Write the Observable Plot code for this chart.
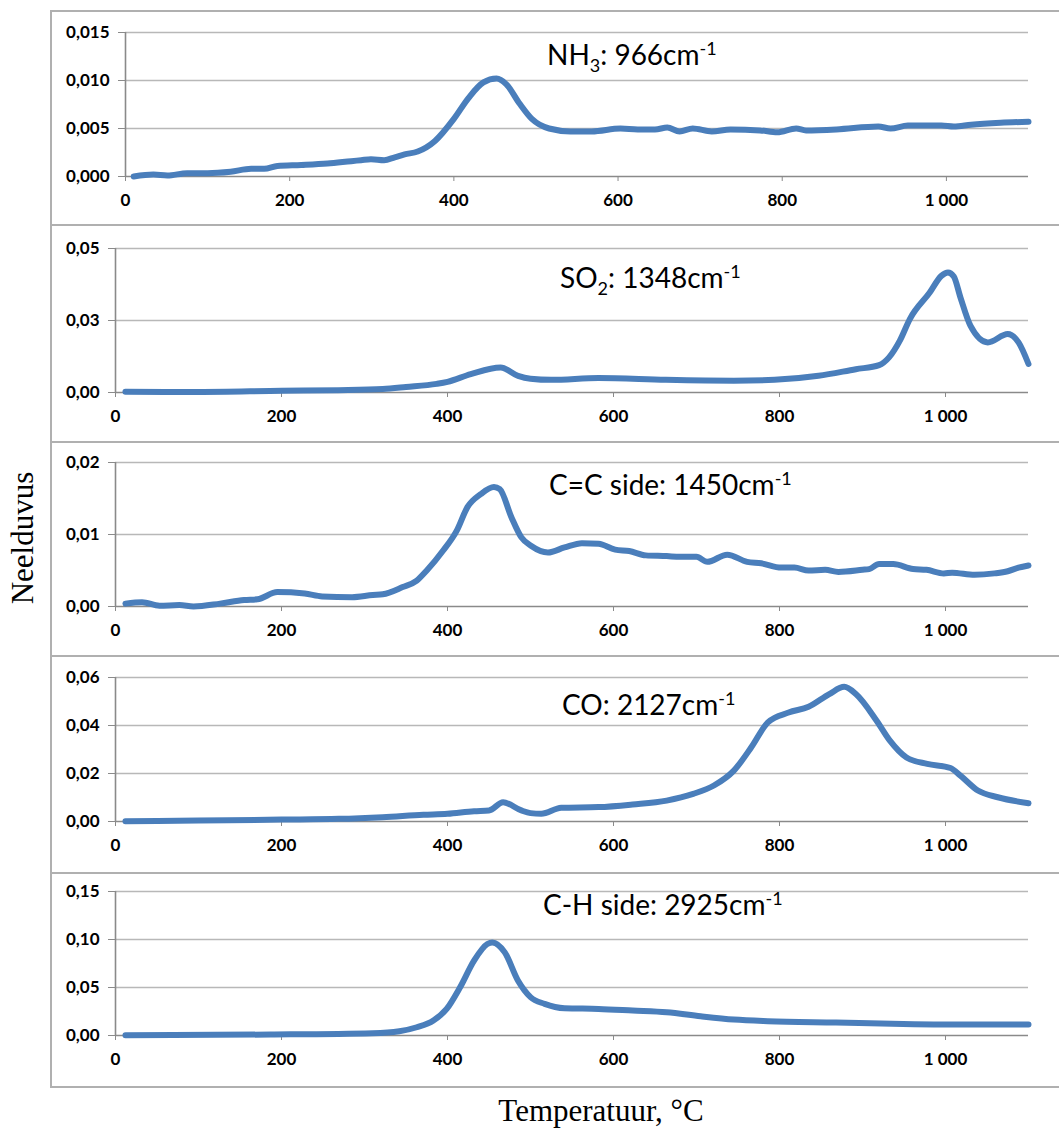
<!DOCTYPE html>
<html><head><meta charset="utf-8">
<script src="https://cdn.jsdelivr.net/npm/d3@7"></script>
<script src="https://cdn.jsdelivr.net/npm/@observablehq/plot@0.6"></script>
<style>
html,body{margin:0;padding:0;background:#fff;overflow:hidden;width:1059px;height:1128px}
#root{position:relative;width:1059px;height:1128px}
.box{position:absolute;left:50px;width:1030px;box-sizing:border-box;border:2px solid #b0b0b0}
#overlay{position:absolute;left:0;top:0;pointer-events:none}
</style></head>
<body><div id="root"></div>
<script>
// ---- data ----
const xTicks = [0, 200, 400, 600, 800, 1000];
const xTickLabels = ["0", "200", "400", "600", "800", "1 000"];

const nh3T = [10, 34, 51, 75, 100, 128, 153, 169, 185, 214, 246, 275, 287, 299, 315, 328, 340, 356, 377, 400, 418, 436, 452, 464, 480, 495, 516, 542, 568, 603, 624, 645, 660, 675, 691, 714, 737, 773, 794, 817, 829, 866, 917, 932, 953, 994, 1009, 1030, 1066, 1100];
const nh3V = [0.0000, 0.0002, 0.0001, 0.00035, 0.00035, 0.0005, 0.0008, 0.0008, 0.0011, 0.0012, 0.00135, 0.0016, 0.0017, 0.0018, 0.0017, 0.0020, 0.0023, 0.0026, 0.0037, 0.0060, 0.0082, 0.0098, 0.0102, 0.0096, 0.0076, 0.0060, 0.0050, 0.0047, 0.0047, 0.0050, 0.0049, 0.0049, 0.0051, 0.0047, 0.0050, 0.0047, 0.0049, 0.0048, 0.0046, 0.0050, 0.0048, 0.0049, 0.0052, 0.0050, 0.0053, 0.0053, 0.0052, 0.0054, 0.0056, 0.0057];
const nh3YTicks = [0, 0.005, 0.010, 0.015];
const nh3YLabels = ["0,000", "0,005", "0,010", "0,015"];

const so2T = [12, 60, 100, 200, 269, 322, 350, 387, 400, 428, 464, 485, 500, 525, 582, 663, 745, 794, 847, 892, 920, 932, 945, 957, 981, 995, 1003, 1010, 1018, 1030, 1051, 1075, 1088, 1100];
const so2V = [0.0003, 0.0002, 0.0002, 0.0006, 0.0008, 0.0012, 0.0019, 0.0030, 0.0037, 0.0064, 0.0087, 0.0058, 0.0048, 0.0044, 0.0050, 0.0044, 0.0041, 0.0044, 0.0058, 0.0081, 0.0095, 0.0122, 0.0180, 0.0255, 0.0347, 0.0405, 0.0417, 0.0403, 0.0330, 0.0232, 0.0174, 0.0203, 0.0174, 0.0099];
const so2YTicks = [0, 0.025, 0.05];
const so2YLabels = ["0,00", "0,03", "0,05"];

const ccT = [12, 32, 53, 77, 94, 126, 155, 171, 195, 228, 249, 285, 310, 322, 346, 363, 375, 395, 411, 424, 440, 456, 463, 477, 489, 501, 521, 541, 562, 582, 602, 619, 639, 664, 680, 700, 713, 737, 761, 778, 802, 818, 835, 855, 871, 900, 908, 920, 937, 961, 977, 998, 1008, 1035, 1059, 1075, 1088, 1100];
const ccV = [0.0004, 0.0006, 0.0001, 0.0002, 0.0000, 0.0004, 0.0009, 0.0010, 0.0020, 0.0018, 0.0014, 0.0013, 0.0016, 0.0017, 0.0027, 0.0036, 0.0050, 0.0078, 0.0105, 0.0138, 0.0156, 0.0166, 0.0163, 0.0124, 0.0096, 0.0084, 0.0075, 0.0082, 0.0088, 0.0087, 0.0079, 0.0077, 0.0071, 0.0070, 0.0069, 0.0069, 0.0062, 0.0072, 0.0062, 0.0060, 0.0054, 0.0054, 0.0050, 0.0051, 0.0048, 0.0051, 0.0052, 0.0059, 0.0059, 0.0052, 0.0051, 0.0046, 0.0047, 0.0044, 0.0046, 0.0049, 0.0054, 0.0057];
const ccYTicks = [0, 0.01, 0.02];
const ccYLabels = ["0,00", "0,01", "0,02"];

const coT = [12, 100, 200, 269, 322, 371, 400, 432, 450, 467, 489, 500, 513, 537, 582, 623, 664, 696, 721, 745, 766, 786, 811, 835, 860, 878, 892, 917, 933, 953, 978, 1006, 1018, 1039, 1063, 1100];
const coV = [0.0001, 0.0004, 0.0008, 0.0011, 0.0018, 0.0028, 0.0032, 0.0043, 0.0046, 0.0080, 0.0046, 0.0035, 0.0032, 0.0057, 0.0060, 0.0071, 0.0087, 0.0115, 0.0150, 0.0212, 0.0309, 0.0413, 0.0454, 0.0478, 0.0531, 0.0561, 0.0531, 0.0420, 0.0337, 0.0267, 0.0240, 0.0223, 0.0191, 0.0129, 0.0101, 0.0076];
const coYTicks = [0, 0.02, 0.04, 0.06];
const coYLabels = ["0,00", "0,02", "0,04", "0,06"];

const chT = [12, 187, 310, 342, 363, 383, 399, 415, 432, 448, 454, 469, 485, 500, 517, 541, 582, 623, 664, 705, 745, 786, 868, 949, 1030, 1100];
const chV = [0.0003, 0.0010, 0.0024, 0.0045, 0.0086, 0.0156, 0.0277, 0.050, 0.078, 0.0953, 0.097, 0.0866, 0.057, 0.040, 0.033, 0.0284, 0.0277, 0.026, 0.0242, 0.020, 0.0166, 0.0149, 0.0135, 0.0121, 0.0114, 0.0114];
const chYTicks = [0, 0.05, 0.10, 0.15];
const chYLabels = ["0,00", "0,05", "0,10", "0,15"];

const panelNames = ["NH3", "SO2", "C=C side", "CO", "C-H side"];
const panelWavenumbers = ["966", "1348", "1450", "2127", "2925"];
const yAxisTitle = "Neelduvus";
const xAxisTitle = "Temperatuur, °C";

// ---- layout ----
const boxTops = [10, 224, 441, 655, 872, 1086];
const frames = [[31.7, 176], [247.7, 391.7], [461.7, 606], [676.7, 821], [890.7, 1035]];
const axisLeft = [125, 115, 115, 115, 115];
const titlePos = [[547, 65], [560, 288], [549, 495], [562, 715], [543, 915]];

const series = [
  {T: nh3T, V: nh3V, ticks: nh3YTicks, labels: nh3YLabels},
  {T: so2T, V: so2V, ticks: so2YTicks, labels: so2YLabels},
  {T: ccT, V: ccV, ticks: ccYTicks, labels: ccYLabels},
  {T: coT, V: coV, ticks: coYTicks, labels: coYLabels},
  {T: chT, V: chV, ticks: chYTicks, labels: chYLabels}
];

const root = document.getElementById("root");
const gridColor = "#b8b8b8";
const axisColor = "#8a8a8a";

series.forEach((s, i) => {
  const box = document.createElement("div");
  box.className = "box";
  box.style.top = boxTops[i] + "px";
  box.style.height = (boxTops[i + 1] - boxTops[i] + 2) + "px";
  root.appendChild(box);

  const data = s.T.map((t, j) => ({T: t, v: s.V[j]}));
  const [ft, fb] = frames[i];
  const mt = 15, mb = 45;
  const h = Math.round(fb - ft) + mt + mb;
  const ymap = new Map(s.ticks.map((t, j) => [t, s.labels[j]]));
  const xmap = new Map(xTicks.map((t, j) => [t, xTickLabels[j]]));
  const txt = {fontSize: 17, fontWeight: "bold", fontFamily: "Lato, sans-serif", fill: "black"};
  const chart = Plot.plot({
    width: 1009, height: h,
    marginTop: mt, marginBottom: mb, marginLeft: axisLeft[i] - 50, marginRight: 31,
    style: {fontFamily: "Lato, sans-serif", fontSize: "17px", fontWeight: "bold", color: "black", background: "transparent", overflow: "visible"},
    x: {domain: [0, 1100], label: null},
    y: {domain: [0, s.ticks[s.ticks.length - 1]], label: null},
    marks: [
      Plot.ruleY(s.ticks.slice(1), {stroke: gridColor, strokeWidth: 1.3}),
      Plot.ruleY([0], {stroke: axisColor, strokeWidth: 1.6}),
      Plot.ruleX([0], {stroke: axisColor, strokeWidth: 1.6}),
      Plot.axisX(xTicks, {tickSize: 5, tickPadding: 12, tickFormat: d => xmap.get(d), stroke: axisColor, label: null, ...txt}),
      Plot.axisY(s.ticks, {tickSize: 7, tickPadding: 9, tickFormat: d => ymap.get(d), stroke: axisColor, label: null, ...txt}),
      Plot.lineY(data, {x: "T", y: "v", stroke: "#4a7ebb", strokeWidth: 6, curve: "monotone-x", strokeLinecap: "round", strokeLinejoin: "round"})
    ]
  });
  chart.style.position = "absolute";
  chart.style.left = "50px";
  chart.style.top = (ft - mt) + "px";
  root.appendChild(chart);
});

// overlay texts
const NS = "http://www.w3.org/2000/svg";
const ov = document.createElementNS(NS, "svg");
ov.setAttribute("id", "overlay");
ov.setAttribute("width", 1059);
ov.setAttribute("height", 1128);
root.appendChild(ov);

function tspan(parent, txt, attrs) {
  const t = document.createElementNS(NS, "tspan");
  for (const k in attrs) t.setAttribute(k, attrs[k]);
  t.textContent = txt;
  parent.appendChild(t);
}

panelNames.forEach((name, i) => {
  const [x, y] = titlePos[i];
  const t = document.createElementNS(NS, "text");
  t.setAttribute("x", x);
  t.setAttribute("y", y);
  t.setAttribute("font-family", "Lato, sans-serif");
  t.setAttribute("font-size", 28);
  t.setAttribute("fill", "black");
  const m = name.match(/^([A-Za-z]+)(\d)$/);
  if (m) {
    tspan(t, m[1], {});
    tspan(t, m[2], {dy: 7, "font-size": 18});
    tspan(t, ": " + panelWavenumbers[i] + "cm", {dy: -7});
  } else {
    tspan(t, name + ": " + panelWavenumbers[i] + "cm", {});
  }
  tspan(t, "-1", {dy: -10, "font-size": 18});
  ov.appendChild(t);
});

const yl = document.createElementNS(NS, "text");
yl.setAttribute("transform", "translate(33,538) rotate(-90)");
yl.setAttribute("text-anchor", "middle");
yl.setAttribute("font-family", "'Liberation Serif', 'DejaVu Serif', serif");
yl.setAttribute("font-size", 31);
yl.textContent = yAxisTitle;
ov.appendChild(yl);

const xl = document.createElementNS(NS, "text");
xl.setAttribute("x", 601);
xl.setAttribute("y", 1121);
xl.setAttribute("text-anchor", "middle");
xl.setAttribute("font-family", "'Liberation Serif', 'DejaVu Serif', serif");
xl.setAttribute("font-size", 31);
xl.textContent = xAxisTitle;
ov.appendChild(xl);
</script></body></html>
